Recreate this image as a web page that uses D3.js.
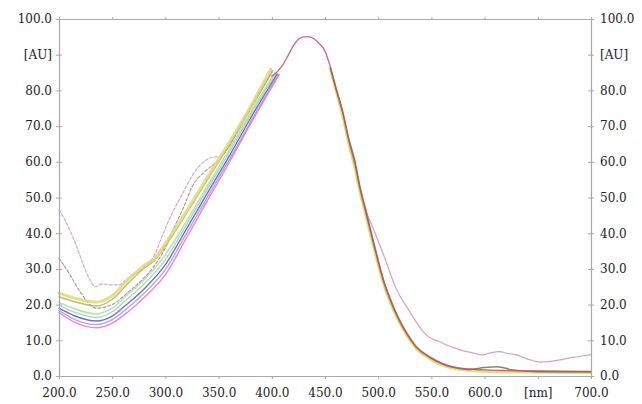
<!DOCTYPE html>
<html>
<head>
<meta charset="utf-8">
<script src="https://cdn.jsdelivr.net/npm/d3@7"></script>
<style>
  body { margin: 0; background: #fff; }
  svg { display: block; }
</style>
</head>
<body>
<svg id="chart" width="642" height="404"></svg>
<script>
// tick labels
const xTicks = [200, 250, 300, 350, 400, 450, 500, 550, 600, 650, 700];
const xTickLabels = ["200.0", "250.0", "300.0", "350.0", "400.0", "450.0", "500.0", "550.0", "600.0", "[nm]", "700.0"];
const yTicks = [0, 10, 20, 30, 40, 50, 60, 70, 80, 90, 100];
const yTickLabels = ["0.0", "10.0", "20.0", "30.0", "40.0", "50.0", "60.0", "70.0", "80.0", "[AU]", "100.0"];

// short wave parts of the spectra [nm, AU]
const yellowUV = [[200, 23.2], [215, 21.8], [235, 20.7], [250, 22.5], [265, 27], [280, 31], [290, 33], [300, 37.2], [320, 46.3], [340, 56], [360, 65.5], [380, 75.5], [399, 86]];
const oliveUV = [[200, 22.2], [215, 20.8], [235, 19.6], [250, 21.5], [265, 26], [280, 30.2], [290, 32.4], [300, 36.4], [320, 45.6], [340, 55.2], [360, 64.8], [380, 74.8], [401, 85.5]];
const greenUV = [[200, 20.6], [215, 18.8], [235, 17.4], [250, 19], [265, 23], [280, 27], [300, 34], [320, 43.5], [340, 53.5], [360, 63.5], [380, 73.8], [403, 85]];
const tealUV = [[200, 19.8], [215, 17.8], [235, 16.4], [250, 18], [265, 21.8], [280, 25.8], [300, 32.6], [320, 42.5], [340, 52.6], [360, 62.6], [380, 73], [404, 84.8]];
const blueUV = [[200, 19], [215, 16.8], [235, 15.4], [250, 16.8], [265, 20.4], [280, 24.4], [300, 31.2], [320, 41.3], [340, 51.5], [360, 61.6], [380, 72.2], [405, 84.6]];
const lilacUV = [[200, 18.4], [215, 15.8], [235, 14.4], [250, 15.8], [265, 19.2], [280, 23.2], [300, 29.8], [320, 40], [340, 50.4], [360, 60.6], [380, 71.2], [406, 84.5]];
const magentaUV = [[200, 17.8], [215, 15], [235, 13.5], [250, 14.8], [265, 18], [280, 22], [300, 28.4], [320, 38.8], [340, 49.4], [360, 59.8], [380, 70.6], [407, 84.4]];
const grayUV = [[200, 33], [210, 28.5], [220, 23.5], [235, 19], [250, 20], [265, 23.5], [280, 27.5], [290, 31], [300, 36], [308, 41.5], [316, 46.5], [326, 53.5], [338, 57.5], [350, 60.5], [360, 64.5], [380, 75], [400, 85]];
const pinkUV = [[200, 46.5], [205, 44], [210, 41], [217, 36], [223, 31], [229, 27], [234, 25], [241, 25.8], [248, 25.5], [256, 25.5], [265, 27.5], [280, 30.5], [290, 34], [298, 40], [307, 46], [316, 51], [326, 56.5], [336, 60], [345, 61.3], [352, 61.5], [358, 63.5], [370, 70], [385, 78], [400, 85.5]];

// long wave parts [nm, AU]
const yellowVis = [[455, 86], [460, 80.5], [467, 72.5], [472, 65.5], [478, 58.5], [483, 51.5], [488, 45.5], [495, 37], [500, 31.3], [505, 26], [511, 21], [518, 16.2], [527, 11.4], [535, 8], [549, 4.8], [560, 3.1], [570, 2.2], [585, 1.6], [600, 1.3], [650, 1.1], [700, 1]];
const greenVis = [[455, 86.3], [460, 80.8], [467, 73.2], [472, 66.4], [478, 59.6], [483, 52.3], [488, 46.3], [495, 37.8], [500, 32], [505, 26.5], [511, 21.5], [518, 16.6], [527, 11.7], [535, 8.3], [549, 5.1], [560, 3.4], [570, 2.4], [585, 1.8], [600, 2.4], [612, 2.6], [625, 1.8], [650, 1.2], [700, 1.1]];
const peakVis = [[400, 84], [405, 85.2], [410, 87], [415, 89.6], [420, 92.4], [425, 94.3], [430, 95], [435, 95], [440, 94.4], [445, 93], [450, 91], [455, 86.6], [460, 81], [467, 73.7], [472, 67], [478, 60.5], [483, 53], [488, 47], [495, 38.5], [500, 32.5], [505, 27], [511, 22], [518, 17], [527, 12], [535, 8.6], [549, 5.3], [560, 3.6], [570, 2.6], [585, 2], [600, 1.7], [650, 1.4], [700, 1.3]];
const pinkTailVis = [[486, 49], [490, 45.2], [495, 41.5], [500, 37.8], [508, 31.6], [515, 25.8], [520, 22.6], [527, 19.3], [533, 16.4], [539, 13.7], [545, 11.6], [552, 10.2], [558, 9.6], [565, 8.6], [577, 7.3], [590, 6.4], [598, 5.9], [606, 6.5], [614, 6.8], [622, 6.3], [630, 5.9], [640, 4.8], [652, 3.9], [662, 4.1], [671, 4.5], [680, 5.1], [688, 5.4], [696, 5.8], [700, 6]];

const series = [
  { pts: pinkUV, color: "#c89ac8", w: 1.2, dash: "3,2" },
  { pts: grayUV, color: "#8a8a8a", w: 1.1, dash: "3,2" },
  { pts: magentaUV, color: "#e070d8", w: 1.4 },
  { pts: lilacUV, color: "#b090dc", w: 1.4 },
  { pts: blueUV, color: "#5a58a8", w: 1.4 },
  { pts: tealUV, color: "#98d0c0", w: 1.4 },
  { pts: greenUV, color: "#b0dca0", w: 1.6 },
  { pts: oliveUV, color: "#b8b058", w: 1.4 },
  { pts: yellowUV, color: "#e0d878", w: 3 },
  { pts: pinkTailVis, color: "#c890c8", w: 1.2 },
  { pts: yellowVis, color: "#e0d470", w: 3 },
  { pts: greenVis, color: "#6a7840", w: 1.4 },
  { pts: peakVis, color: "#c04f66", w: 1.3 }
];

const svg = d3.select("#chart");
const x = d3.scaleLinear().domain([200, 700]).range([59, 591]);
const y = d3.scaleLinear().domain([0, 100]).range([376, 19]);
const axisColor = "#a8a8a8";
const serif = "DejaVu Serif";

const line = d3.line()
  .x(d => x(d[0]))
  .y(d => y(d[1]))
  .curve(d3.curveMonotoneX);

svg.append("g")
  .selectAll("path")
  .data(series)
  .join("path")
  .attr("fill", "none")
  .attr("stroke", d => d.color)
  .attr("stroke-width", d => d.w)
  .attr("stroke-dasharray", d => d.dash || null)
  .attr("stroke-linejoin", "round")
  .attr("stroke-linecap", "round")
  .attr("opacity", 0.85)
  .attr("d", d => line(d.pts));

function styleAxis(g) {
  g.attr("font-family", serif).attr("font-size", 12);
  g.select(".domain").attr("stroke", axisColor).attr("stroke-width", 1.2);
  g.selectAll(".tick line").attr("stroke", axisColor);
  g.selectAll(".tick text").attr("fill", "#222");
}

// bottom
svg.append("g")
  .attr("transform", `translate(0,${y(0)})`)
  .call(d3.axisBottom(x).tickValues(xTicks).tickFormat((d, i) => xTickLabels[i]).tickSizeInner(3).tickSizeOuter(0).tickPadding(9))
  .call(styleAxis);

// top border
svg.append("g")
  .attr("transform", `translate(0,${y(100)})`)
  .call(d3.axisTop(x).tickValues(xTicks).tickFormat("").tickSizeInner(2).tickSizeOuter(0))
  .call(styleAxis);

// left
svg.append("g")
  .attr("transform", `translate(${x(200)},0)`)
  .call(d3.axisLeft(y).tickValues(yTicks).tickFormat((d, i) => yTickLabels[i]).tickSizeInner(3).tickSizeOuter(0).tickPadding(4))
  .call(styleAxis)
  .call(g => g.selectAll(".tick line").attr("x2", 3).attr("x1", -3));

// right
svg.append("g")
  .attr("transform", `translate(${x(700)},0)`)
  .call(d3.axisRight(y).tickValues(yTicks).tickFormat((d, i) => yTickLabels[i]).tickSizeInner(3).tickSizeOuter(0).tickPadding(6))
  .call(styleAxis)
  .call(g => g.selectAll(".tick line").attr("x1", -3).attr("x2", 3));
</script>
</body>
</html>
